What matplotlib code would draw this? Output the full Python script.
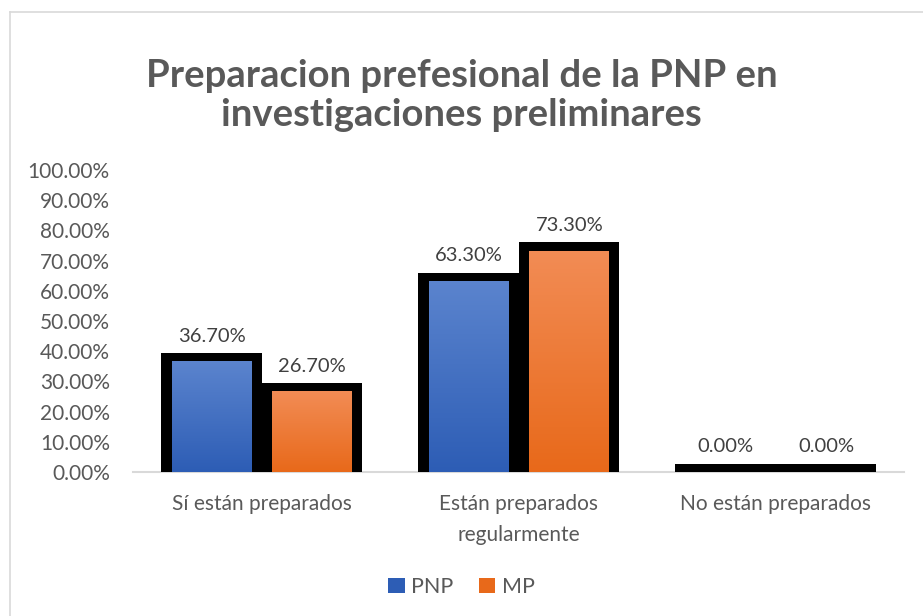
import matplotlib.pyplot as plt
import matplotlib.colors as mcolors
import numpy as np
from matplotlib.lines import Line2D
from matplotlib.patches import Patch

plt.rcParams['font.family'] = ['Lato', 'DejaVu Sans']

# data
categories = ['Sí están preparados', 'Están preparados\nregularmente', 'No están preparados']
series = ['PNP', 'MP']
pnp = [0.367, 0.633, 0.0]
mp = [0.267, 0.733, 0.0]
yticks = np.arange(0, 1.01, 0.1)

# colours (top, bottom of gradient)
grad = {'PNP': ('#5B84CE', '#2D5DB5'), 'MP': ('#F28C55', '#E8691A')}
text_grey = '#595959'

fig = plt.figure(figsize=(9.23, 6.16), dpi=100)
ax = fig.add_axes([0.1446, 0.2338, 0.8353, 0.4903])

x = np.arange(len(categories))
offset = 0.196       # bar centre offset from category centre
outer_w = 0.39       # width of black outline block
inner_w = 0.31       # width of coloured fill
pad = 0.027          # outline above the fill, in data units


def gradient_bar(xc, h, c_top, c_bot):
    if h <= 0:
        return
    cmap = mcolors.LinearSegmentedColormap.from_list('g', [c_bot, c_top])
    img = np.linspace(0, 1, 256).reshape(-1, 1)
    rect = plt.Rectangle((xc - inner_w / 2, 0), inner_w, h,
                         facecolor='none', edgecolor='none', zorder=3)
    ax.add_patch(rect)
    im = ax.imshow(img, cmap=cmap, origin='lower', aspect='auto',
                   extent=[xc - inner_w / 2, xc + inner_w / 2, 0, h], zorder=3)
    im.set_clip_path(rect)


for vals, name, sign in [(pnp, 'PNP', -1), (mp, 'MP', 1)]:
    xs = x + sign * offset
    ax.bar(xs, np.array(vals) + pad, width=outer_w, color='black', zorder=2)
    for xc, v in zip(xs, vals):
        gradient_bar(xc, v, *grad[name])
        ax.annotate(f'{v * 100:.2f}%', (xc, v + pad), xytext=(0, 6),
                    textcoords='offset points', ha='center', va='bottom',
                    fontsize=14.5, color='#404040', zorder=5)

ax.set_xlim(-0.5, 2.5)
ax.set_ylim(0, 1)
ax.set_yticks(yticks)
ax.set_yticklabels([f'{t * 100:.2f}%' for t in yticks])
ax.set_xticks(x)
ax.set_xticklabels(categories, linespacing=1.7)
ax.tick_params(axis='y', length=0, pad=17, labelsize=15, labelcolor=text_grey)
ax.tick_params(axis='x', length=0, pad=16, labelsize=15, labelcolor=text_grey)
for s in ['top', 'right', 'left']:
    ax.spines[s].set_visible(False)
ax.spines['bottom'].set_color('#D9D9D9')
ax.spines['bottom'].set_linewidth(1.5)
ax.spines['bottom'].set_zorder(1)

fig.text(0.5, 0.845, 'Preparacion prefesional de la PNP en\ninvestigaciones preliminares',
         ha='center', va='center', fontsize=27.5, fontweight='bold',
         color=text_grey, linespacing=1.2)

handles = [Patch(facecolor=grad[s][1], edgecolor='none') for s in series]
fig.legend(handles, series, loc='center', bbox_to_anchor=(0.5, 0.047),
           ncol=2, frameon=False, fontsize=15.5, labelcolor=text_grey,
           handlelength=0.75, handleheight=0.75, handletextpad=0.3, columnspacing=1.2)

# chart area border (top and left visible)
fig.add_artist(Line2D([10 / 923, 10 / 923], [0, 1 - 12 / 616],
                      transform=fig.transFigure, color='#D9D9D9', lw=1.2))
fig.add_artist(Line2D([10 / 923, 1], [1 - 12 / 616, 1 - 12 / 616],
                      transform=fig.transFigure, color='#D9D9D9', lw=1.2))

fig.savefig('out.png', dpi=100)
